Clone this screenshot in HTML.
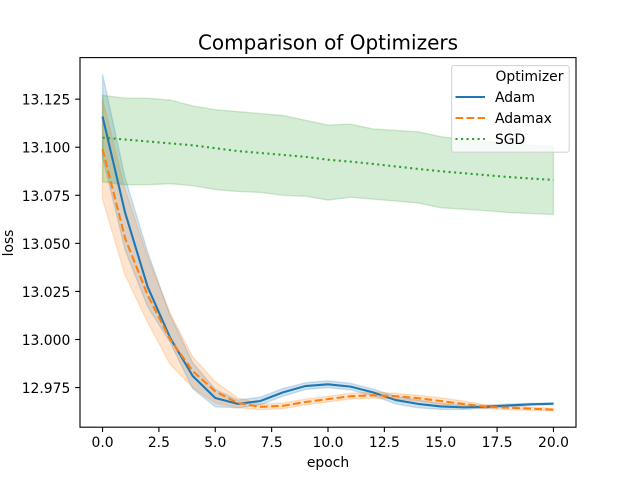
<!DOCTYPE html>
<html>
<head>
<meta charset="utf-8">
<title>Comparison of Optimizers</title>
<style>
html,body{margin:0;padding:0;background:#fff;width:640px;height:480px;overflow:hidden}
svg{display:block}
text{font-family:"DejaVu Sans","Liberation Sans",sans-serif;fill:#000}
</style>
</head>
<body>
<svg id="chart" xmlns="http://www.w3.org/2000/svg" width="640" height="480" viewBox="0 0 640 480">
<rect x="0" y="0" width="640" height="480" fill="#fff"/>
<g id="bands"></g>
<g id="lines"></g>
<g id="xaxis"></g>
<g id="yaxis"></g>
<rect x="80" y="57.6" width="496" height="369.6" fill="none" stroke="#000" stroke-width="1.11"/>
<text x="328" y="49.6" style="font-size:20px" text-anchor="middle">Comparison of Optimizers</text>
<text x="328" y="467" style="font-size:13.89px" text-anchor="middle">epoch</text>
<text transform="translate(13,243) rotate(-90)" text-anchor="middle" style="font-size:13.89px">loss</text>
<g>
<rect x="451.6" y="65.6" width="117.6" height="86.6" rx="2.5" fill="#fff" fill-opacity="0.8" stroke="#ccc" stroke-opacity="0.8" stroke-width="1.11"/>
<text x="495.5" y="81" style="font-size:13.89px">Optimizer</text>
<line x1="455.5" y1="97" x2="485" y2="97" stroke="#1f77b4" stroke-width="2.08"/>
<text x="495" y="102" style="font-size:13.89px">Adam</text>
<line x1="455.5" y1="118" x2="485" y2="118" stroke="#ff7f0e" stroke-width="2.08" stroke-dasharray="7.7 3.33"/>
<text x="495" y="123" style="font-size:13.89px">Adamax</text>
<line x1="455.5" y1="139" x2="485" y2="139" stroke="#2ca02c" stroke-width="2.08" stroke-dasharray="2.08 3.44"/>
<text x="495" y="144" style="font-size:13.89px">SGD</text>
</g>
</svg>
<script>
const epochs = [0,1,2,3,4,5,6,7,8,9,10,11,12,13,14,15,16,17,18,19,20];
const xTickValues = [0,2.5,5,7.5,10,12.5,15,17.5,20];
const xTickLabels = ["0.0","2.5","5.0","7.5","10.0","12.5","15.0","17.5","20.0"];
const yTickValues = [12.975,13,13.025,13.05,13.075,13.1,13.125];
const yTickLabels = ["12.975","13.000","13.025","13.050","13.075","13.100","13.125"];

const adamMean = [13.116,13.066,13.0274,13.0008,12.981,12.9696,12.9665,12.968,12.9725,12.9758,12.9767,12.9755,12.9725,12.9685,12.9665,12.9652,12.9647,12.965,12.9657,12.9663,12.9666];
const adamUpper = [13.138,13.084,13.0455,13.0125,12.988,12.974,12.9685,12.970,12.9745,12.9775,12.9785,12.9772,12.9742,12.9705,12.9685,12.9668,12.9658,12.9658,12.9664,12.9668,12.967];
const adamLower = [13.095,13.0465,13.017,12.9985,12.9745,12.965,12.9645,12.966,12.9705,12.974,12.975,12.9738,12.9708,12.9665,12.9645,12.9636,12.9636,12.9642,12.965,12.9658,12.9662];

const adamaxMean = [13.099,13.0527,13.0231,13.000,12.9836,12.973,12.967,12.965,12.9655,12.9675,12.969,12.9705,12.971,12.9705,12.9695,12.968,12.9665,12.965,12.9645,12.964,12.9635];
const adamaxUpper = [13.125,13.078,13.043,13.0135,12.991,12.978,12.9696,12.9665,12.967,12.969,12.9705,12.972,12.9725,12.972,12.971,12.9697,12.968,12.966,12.9655,12.9648,12.9642];
const adamaxLower = [13.073,13.0335,13.009,12.987,12.975,12.967,12.9645,12.9635,12.964,12.966,12.9675,12.969,12.9695,12.969,12.968,12.9663,12.965,12.964,12.9635,12.9632,12.9628];

const sgdMean = [13.105,13.104,13.103,13.102,13.101,13.0995,13.098,13.097,13.096,13.095,13.0935,13.0925,13.0913,13.09,13.0887,13.0875,13.0865,13.0855,13.0845,13.0837,13.083];
const sgdUpper = [13.127,13.1255,13.1255,13.1245,13.1215,13.1195,13.1185,13.1175,13.1165,13.114,13.1115,13.112,13.1095,13.1087,13.108,13.1055,13.104,13.103,13.102,13.101,13.1005];
const sgdLower = [13.082,13.0805,13.0805,13.081,13.080,13.078,13.077,13.0765,13.075,13.0745,13.0725,13.074,13.073,13.072,13.071,13.0685,13.0678,13.067,13.066,13.0655,13.065];

const NS = 'http://www.w3.org/2000/svg';
const plotLeft = 80, plotRight = 576, plotTop = 57.6, plotBottom = 427.2;
const xMin = -1, xMax = 21, yMin = 12.95439, yMax = 13.14661;

function xScale(v){ return plotLeft + (v - xMin) / (xMax - xMin) * (plotRight - plotLeft); }
function yScale(v){ return plotBottom - (v - yMin) / (yMax - yMin) * (plotBottom - plotTop); }
function linePath(xs, ys){
  return xs.map(function(x, i){ return (i ? 'L' : 'M') + xScale(x).toFixed(2) + ' ' + yScale(ys[i]).toFixed(2); }).join(' ');
}
function bandPath(xs, up, lo){
  const top = xs.map(function(x, i){ return (i ? 'L' : 'M') + xScale(x).toFixed(2) + ' ' + yScale(up[i]).toFixed(2); });
  const bottom = xs.map(function(x, i){ return 'L' + xScale(x).toFixed(2) + ' ' + yScale(lo[i]).toFixed(2); }).reverse();
  return top.concat(bottom).join(' ') + ' Z';
}

const bandsGroup = document.getElementById('bands');
const linesGroup = document.getElementById('lines');
const xGroup = document.getElementById('xaxis');
const yGroup = document.getElementById('yaxis');

function addBand(name, up, lo, color){
  const p = document.createElementNS(NS, 'path');
  
  
  p.setAttribute('d', bandPath(epochs, up, lo));
  p.setAttribute('fill', color);
  p.setAttribute('fill-opacity', '0.2');
  p.setAttribute('stroke', color);
  p.setAttribute('stroke-opacity', '0.2');
  p.setAttribute('stroke-width', '1.39');
  bandsGroup.appendChild(p);
}
function addLine(name, values, color, dash){
  const p = document.createElementNS(NS, 'path');
  
  
  p.setAttribute('d', linePath(epochs, values));
  p.setAttribute('fill', 'none');
  p.setAttribute('stroke', color);
  p.setAttribute('stroke-width', '2.08');
  p.setAttribute('stroke-linejoin', 'round');
  if (dash) p.setAttribute('stroke-dasharray', dash);
  linesGroup.appendChild(p);
}

addBand('band-adam', adamUpper, adamLower, '#1f77b4');
addBand('band-adamax', adamaxUpper, adamaxLower, '#ff7f0e');
addBand('band-sgd', sgdUpper, sgdLower, '#2ca02c');
addLine('line-adam', adamMean, '#1f77b4', '');
addLine('line-adamax', adamaxMean, '#ff7f0e', '7.7 3.33');
addLine('line-sgd', sgdMean, '#2ca02c', '2.08 3.44');

xTickValues.forEach(function(v, i){
  const t = document.createElementNS(NS, 'line');
  
  
  t.setAttribute('x1', xScale(v));
  t.setAttribute('x2', xScale(v));
  t.setAttribute('y1', plotBottom);
  t.setAttribute('y2', plotBottom + 4.86);
  t.setAttribute('stroke', '#000');
  t.setAttribute('stroke-width', '1.11');
  xGroup.appendChild(t);
  const l = document.createElementNS(NS, 'text');
  
  
  l.setAttribute('x', xScale(v));
  l.setAttribute('y', plotBottom + 20);
  l.setAttribute('text-anchor', 'middle');
  l.style.fontSize = '13.89px';
  l.textContent = xTickLabels[i];
  xGroup.appendChild(l);
});

yTickValues.forEach(function(v, i){
  const t = document.createElementNS(NS, 'line');
  
  
  t.setAttribute('x1', plotLeft - 4.86);
  t.setAttribute('x2', plotLeft);
  t.setAttribute('y1', yScale(v));
  t.setAttribute('y2', yScale(v));
  t.setAttribute('stroke', '#000');
  t.setAttribute('stroke-width', '1.11');
  yGroup.appendChild(t);
  const l = document.createElementNS(NS, 'text');
  
  
  l.setAttribute('x', plotLeft - 9.7);
  l.setAttribute('y', yScale(v) + 5.5);
  l.setAttribute('text-anchor', 'end');
  l.style.fontSize = '13.89px';
  l.textContent = yTickLabels[i];
  yGroup.appendChild(l);
});
</script>
</body>
</html>
